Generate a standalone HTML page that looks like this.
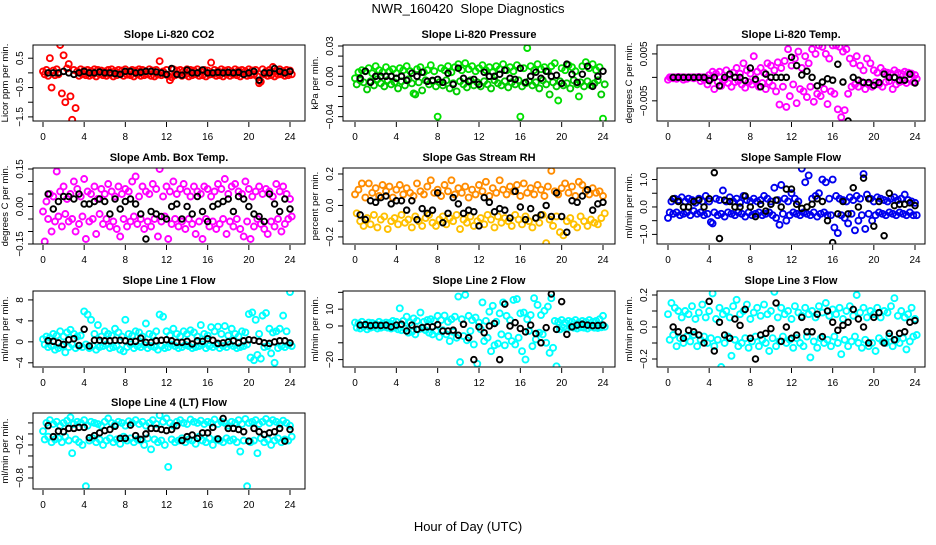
<!DOCTYPE html>
<html><head><meta charset="utf-8"><style>
html,body{margin:0;padding:0;background:#fff;}
svg text{font-family:"Liberation Sans",sans-serif;}
</style></head><body>
<svg id="chart" width="936" height="540" viewBox="0 0 936 540" xmlns="http://www.w3.org/2000/svg">
<text x="468" y="13" text-anchor="middle" font-size="13" xml:space="preserve">NWR_160420  Slope Diagnostics</text>
<text x="468" y="531" text-anchor="middle" font-size="13">Hour of Day (UTC)</text>
</svg>
<script>
const xTicks=[0,4,8,12,16,20,24];
const co2A=[0.05,0.1,0.5,0.08,0.12,0.95,0.6,0.15,-0.8,0.1,0.05,0.12,0.08,0.1,0.06,0.12,0.1,0.08,0.05,0.1,0.12,0.06,0.1,0.08,0.12,0.05,0.1,0.08,0.12,0.1,0.06,0.12,0.08,0.1,0.4,0.05,0.1,-0.25,0.12,0.08,0.1,0.06,0.12,0.1,0.08,0.12,0.05,0.1,0.08,0.35,0.1,0.06,0.12,0.08,0.1,0.05,0.12,0.08,0.1,0.06,0.12,0.08,0.1,-0.35,0.12,0.05,0.1,0.2,0.08,0.12,0.06,0.1,0.08];
const co2B=[-0.05,-0.1,-0.5,-0.08,-0.05,-0.7,-1.0,0.3,-1.6,-1.2,-0.1,-0.05,-0.08,-0.1,-0.06,-0.12,-0.05,-0.08,-0.1,-0.05,-0.12,-0.08,-0.05,-0.1,-0.06,-0.08,-0.12,-0.05,-0.1,-0.08,-0.05,-0.1,-0.12,-0.06,-0.08,-0.05,-0.1,-0.15,-0.08,-0.05,-0.1,-0.06,-0.12,-0.08,-0.05,-0.1,-0.08,-0.12,-0.06,-0.05,-0.1,-0.08,-0.12,-0.05,-0.1,-0.06,-0.08,-0.12,-0.05,-0.1,-0.08,-0.06,-0.12,-0.3,-0.05,-0.1,-0.08,-0.12,-0.06,-0.05,-0.1,-0.08,-0.05];
const co2K=[0,0,0,0.05,0,-0.05,0,0.05,0,0,0.03,0,0,-0.02,-0.05,0.05,0.05,0,0.02,0.05,0.05,0.03,0,-0.05,0.15,-0.05,-0.08,0.1,0,0,0.1,0,0,0.02,0,0.02,0,0.02,-0.05,0,0.05,-0.25,0,0,0.15,0.05,0,0.05];
const presA=[-0.002,0.004,0.006,0.005,0.008,0.003,0.01,0.006,0.004,0.009,0.005,0.007,0.003,0.008,0.006,0.01,0.005,-0.017,0.007,0.009,0.004,0.006,0.011,0.005,-0.04,0.008,0.006,0.01,0.004,0.009,0.012,0.006,0.013,0.007,0.01,0.005,0.008,0.011,0.006,0.009,0.004,0.01,0.007,0.012,0.006,0.009,0.005,0.011,-0.04,0.008,0.028,0.01,0.006,0.012,0.007,0.009,0.005,0.01,0.013,-0.024,0.008,0.006,0.011,0.009,0.005,-0.02,0.01,0.014,0.008,0.012,0.006,0.009,-0.042];
const presB=[-0.008,-0.004,-0.006,-0.013,-0.005,-0.009,-0.003,-0.007,-0.01,-0.004,-0.008,-0.006,-0.012,-0.005,-0.009,-0.003,-0.007,-0.018,-0.006,-0.014,-0.004,-0.008,-0.005,-0.01,-0.006,-0.009,-0.004,-0.012,-0.007,-0.015,-0.005,-0.008,-0.011,-0.004,-0.009,-0.006,-0.01,-0.005,-0.008,-0.012,-0.004,-0.007,-0.009,-0.005,-0.011,-0.006,-0.008,-0.004,-0.01,-0.007,-0.005,-0.009,-0.006,-0.012,-0.004,-0.008,-0.018,-0.006,-0.01,-0.005,-0.009,-0.007,-0.012,-0.004,-0.008,-0.006,-0.01,-0.005,-0.009,-0.007,-0.004,-0.018,-0.008];
const presK=[-0.002,0.005,-0.006,0,0,0,0,-0.002,0,-0.004,0.003,0,0.004,-0.005,-0.004,-0.003,-0.006,0.003,-0.008,0.008,-0.002,-0.005,-0.003,-0.008,0.004,0,0,0.002,0.006,-0.002,-0.003,0.008,-0.006,0,0.004,-0.002,0.005,0,0.001,-0.007,0.012,0.002,-0.006,0.002,0.01,-0.01,0,0.005];
const tempA=[-0.5,0,0,0.1,0,0,0,0,0,0.1,0,0,0.5,1.2,0.8,1.2,-0.8,1.5,0.5,1,2,0.8,3,1.5,0.8,4.5,1.2,2,1,3,2.5,1.5,3.2,2,3.5,6,2.5,4,5.5,2,4.5,3,6,5,6.8,6.5,5,4,6.8,6.8,6.5,5.5,6,4,3,4.5,2.5,1.5,4,3,1.5,1,2,1.2,1,0.8,1.5,1,0.8,1.2,1,0.8,0.5];
const tempB=[0,-0.2,-0.3,0,-0.5,-0.3,0,-0.2,0,-0.8,-0.5,-1.5,-0.3,-2.5,-1,-1.8,-0.5,-1.2,-2,-1,-0.8,-1.5,-2.2,-1,-1.5,-0.8,-2,-1.2,-2.5,-1,-1.8,-3,-5.8,-2,-6.3,-4,-1.5,-5.5,-2.5,-3,-4.2,-2,-5.2,-3.5,-4,-2.5,-5.7,-3,-3.5,-6.8,-8.5,-7,-3.5,-2,-1.5,-2,-1,-2.5,-1.5,-2,-1,-1.5,-2,-1,-0.8,-2.5,-1.5,-1,-0.8,-1.2,-0.5,-1,-0.3];
const tempK=[0,0,0,0,0,0,0,-0.7,0,-1.8,0,0.7,0,0,-0.7,2,-0.4,-2,0.7,0,0,0,0,4.3,2.5,0.5,1.3,0,-1.8,-1,-0.3,-0.6,2.8,-1,-9.3,0,-0.6,-1.1,-1.1,-1.7,-1.1,0.7,0,0,-0.6,-0.6,0.7,-1.2];
const ambA=[-0.02,0.02,0.05,0.04,0.14,0.06,0.08,0.03,0.05,0.1,0.07,0.04,0.11,0.06,0.05,0.08,0.03,0.07,0.05,0.09,0.06,0.04,0.08,0.05,0.07,0.06,0.1,0.12,0.04,0.08,0.06,0.05,0.09,0.07,0.15,0.04,0.08,0.06,0.1,0.05,0.07,0.09,0.06,0.04,0.08,0.06,0.05,0.08,0.07,0.04,0.06,0.09,0.07,0.11,0.05,0.08,0.09,0.06,0.05,0.1,0.07,0.04,0.06,0.08,0.05,0.07,0.06,0.04,0.09,0.06,0.08,0.05,0.03];
const ambB=[-0.14,-0.05,-0.1,-0.06,-0.04,-0.08,-0.03,-0.06,-0.05,-0.1,-0.07,-0.04,-0.13,-0.06,-0.05,-0.11,-0.03,-0.07,-0.05,-0.08,-0.06,-0.09,-0.12,-0.05,-0.08,-0.06,-0.04,-0.07,-0.05,-0.09,-0.06,-0.08,-0.05,-0.12,-0.06,-0.04,-0.13,-0.07,-0.05,-0.08,-0.06,-0.09,-0.05,-0.07,-0.11,-0.06,-0.13,-0.05,-0.08,-0.06,-0.09,-0.07,-0.05,-0.11,-0.06,-0.08,-0.05,-0.09,-0.12,-0.06,-0.13,-0.08,-0.05,-0.07,-0.09,-0.11,-0.06,-0.08,-0.05,-0.1,-0.07,-0.05,-0.04];
const ambK=[0.05,-0.01,0.02,0.04,0.04,0.03,0.05,0.01,0.01,0.02,0.03,0.02,-0.03,0.03,-0.01,0.02,0.03,0.01,-0.03,-0.13,-0.02,-0.03,-0.04,-0.05,0,0.01,-0.05,0,-0.03,0.04,-0.02,-0.06,0,0.01,0.02,0.03,-0.02,0.04,0.03,0,-0.03,-0.04,-0.06,0.05,0.01,-0.02,0.03,-0.01];
const rhA=[0.07,0.1,0.14,0.05,0.14,0.08,0.11,0.06,0.13,0.09,0.12,0.05,0.1,0.13,0.07,0.11,0.08,0.06,0.14,0.09,0.07,0.12,0.16,0.08,0.1,0.06,0.13,0.09,0.16,0.07,0.11,0.08,0.12,0.05,0.1,0.07,0.13,0.09,0.15,0.06,0.11,0.08,0.16,0.1,0.07,0.12,0.09,0.13,0.06,0.14,0.08,0.11,0.07,0.13,0.1,0.06,0.12,0.22,0.09,0.07,0.11,0.14,0.08,0.12,0.06,0.15,0.13,0.09,0.07,0.11,0.08,0.09,0.06];
const rhB=[-0.05,-0.1,-0.13,-0.08,-0.12,-0.06,-0.14,-0.09,-0.07,-0.15,-0.1,-0.08,-0.12,-0.06,-0.11,-0.09,-0.14,-0.07,-0.1,-0.13,-0.08,-0.06,-0.11,-0.13,-0.09,-0.07,-0.12,-0.08,-0.1,-0.06,-0.15,-0.09,-0.11,-0.07,-0.13,-0.1,-0.08,-0.12,-0.06,-0.09,-0.14,-0.07,-0.11,-0.08,-0.1,-0.13,-0.06,-0.09,-0.12,-0.07,-0.1,-0.14,-0.08,-0.11,-0.06,-0.24,-0.09,-0.13,-0.07,-0.17,-0.19,-0.1,-0.08,-0.12,-0.14,-0.07,-0.1,-0.13,-0.09,-0.11,-0.12,-0.08,-0.05];
const rhK=[-0.06,-0.09,0.03,0.02,0.05,0.06,0.01,0.03,0.03,-0.03,0.03,-0.09,-0.02,-0.05,-0.03,0.08,-0.11,-0.05,0.05,0.01,-0.05,-0.03,-0.04,-0.13,0.05,0.02,-0.04,-0.02,-0.03,-0.08,0.09,-0.01,-0.09,-0.02,-0.08,-0.06,0,-0.07,0.08,-0.07,-0.17,0.03,0.02,0.06,0.1,-0.03,0.01,0.02];
const sfA=[-0.4,0.2,0.3,0.25,0.35,0.2,0.3,0.25,0.15,0.3,0.2,0.4,0.2,-0.6,0.3,0.25,0.6,0.2,0.35,0.2,0.3,0.15,0.4,0.25,0.2,0.3,0.2,0.25,0.4,0.3,0.2,0.7,0.25,0.8,0.3,0.2,0.5,0.3,0.2,1.4,0.9,1.15,0.3,0.4,0.5,1.0,0.9,0.3,1.0,0.4,0.3,0.25,0.2,0.35,0.25,0.4,0.3,1.2,0.45,0.3,0.2,0.35,0.3,0.25,0.2,0.3,0.35,0.25,0.3,0.45,0.25,0.2,0.15];
const sfB=[-0.2,-0.25,-0.2,-0.3,-0.25,-0.2,-0.3,-0.15,-0.25,-0.2,-0.3,-0.25,-0.55,-0.2,-0.3,-0.25,-0.35,-0.2,-0.25,-0.3,-0.2,-0.25,-0.35,-0.2,-0.3,-0.25,-0.2,-0.3,-0.25,-0.2,-0.3,-0.4,-0.65,-0.25,-0.5,-0.3,-0.2,-0.25,-0.3,-0.2,-0.25,-0.3,-0.2,-0.35,-0.25,-0.2,-0.3,-0.3,-0.75,-0.95,-0.3,-0.4,-0.6,-0.25,-0.85,-0.5,-0.3,-0.8,-0.25,-0.5,-0.3,-0.2,-0.25,-0.3,-0.2,-0.25,-0.3,-0.2,-0.25,-0.3,-0.2,-0.3,-0.3];
const sfK=[0.3,0.2,0,0,0.2,0.25,0,0.3,1.25,-1.15,0.25,0.2,0,0,0.4,0,-0.35,0.1,-0.15,0.1,0.25,0,0.65,0.65,0.1,-0.05,0,0.1,0.3,0.2,-0.5,-1.3,-0.25,0.2,-0.25,0.7,0,1.05,0.3,-0.7,0.2,-1.05,0.5,0.05,0.1,0.1,0.15,0.05];
const l1A=[0.5,1,0.8,1.5,1.2,2,1,1.8,2.3,1.5,1,1.2,5.8,5.2,4.2,1.5,3.2,1,2,1.5,1.2,2.5,1.8,1,4.2,1.5,1.2,2,1.8,1,3.5,1.5,1.2,2,5.2,4.8,2,1.2,2.5,1.5,1,2,1.5,2.2,1.8,1,3.2,1.5,1.2,2.8,2,2.9,1.5,3,1.2,2.5,1.5,1,2,1.8,5.3,5.6,4.2,1.5,5,5.5,2.5,1.8,2,2.5,5,2,9.5];
const l1B=[-0.5,-1,-0.8,-1.5,-1.2,-0.8,-2,-1,-0.5,-1.2,-0.8,-1,-0.5,-1.2,-0.8,-1.5,-1,-0.8,-0.5,-1.2,-1,-0.8,-1.5,-1.8,-1,-0.5,-1.2,-0.8,-1,-0.6,-1.2,-0.8,-1,-1.5,-0.8,-1.2,-1,-0.5,-0.8,-1.2,-1,-0.6,-0.8,-1.2,-1,-0.8,-0.5,-1.2,-0.8,-1,-0.6,-1.2,-0.8,-1,-0.5,-0.8,-1.2,-1,-0.8,-0.5,-3,-3.5,-2.5,-3.2,-1,-0.8,-2.2,-4,-1.2,-0.8,-1,-0.6,-0.8];
const l1K=[0.2,0.1,-0.2,-0.5,0.4,0.6,-0.7,2.4,-0.8,0.3,0.3,0.2,0.2,0.3,0.3,0.2,0,0.1,0.7,-0.1,-0.1,0.2,0.3,0.4,0.2,-0.1,-0.1,0.1,-0.4,0.2,0.1,0.6,0.3,-0.3,-0.2,0,0.2,-0.2,0.2,0.4,0.3,0.1,-0.2,-0.3,0,0.2,0.2,-0.2];
const l2A=[2,1.5,2.5,1,2,1.8,1.2,2.5,1.5,2,1.8,3,2.5,10.5,3,5.5,2,4.5,3,8,2.5,3.5,4,3,6,3.5,6.2,2.5,4,5.5,17.5,4,18.5,6,3.5,5,2,14,3,8.5,12,2.5,7.5,14,6,3.5,15.5,16,7.5,8,4,6.5,16.5,12.5,6.5,9,11.5,16.5,3,2.5,3.5,2,3,2.5,3.5,2,3,2.5,3.5,2.5,3,4,6];
const l2B=[-1,-1.5,-0.5,-2,-1,-0.5,-1.5,-1,-0.5,-1,-1.5,-1,-2,-2.5,-1.5,-4,-3.5,-5,-2,-1.5,-2.5,-4,-5,-3,-6.5,-2.5,-5,-9,-3.5,-7,-21.5,-6,-8.5,-3,-11,-22.5,-2,-9,-7,-15,-11.5,-10.5,-5,-11.5,-6,-9,-11,-7,-15,-20,-3,-12,-8,-4,-5,-10,-16,-13,-24,-2,-1,-1.5,-0.5,-1,-1.5,-0.8,-1,-1.5,-0.5,-1,-1.2,-0.8,-0.5];
const l2K=[0.5,0.8,0.2,0.5,0.3,0.5,-0.5,0.5,1,-3,0.5,-2,-1,-0.5,-0.5,0.8,-3,-3,-2.5,-5.5,1,-7,-20,-0.5,-4,0,1.5,-20,13,0,2,-1.5,-3.5,0.5,-4.5,-10,-1,19,-2,14.5,-5,-0.5,0.5,1,0.5,0.2,0.3,0.5];
const l3A=[0.08,0.15,0.12,0.1,0.06,0.1,0.08,0.13,0.05,0.09,0.14,0.06,0.1,0.21,0.05,0.12,0.08,0.1,0.06,0.13,0.17,0.08,0.1,0.14,0.05,0.09,0.12,0.07,0.14,0.08,0.1,0.22,0.06,0.12,0.08,0.1,0.05,0.13,0.09,0.07,0.12,0.08,0.1,0.06,0.13,0.09,0.15,0.07,0.11,0.08,0.12,0.05,0.1,0.13,0.07,0.2,0.09,0.12,0.06,0.1,0.08,0.12,0.06,0.1,0.09,0.13,0.18,0.07,0.1,0.06,0.08,0.12,0.05];
const l3B=[-0.08,-0.05,-0.12,-0.07,-0.1,-0.06,-0.09,-0.05,-0.12,-0.08,-0.06,-0.1,-0.07,-0.12,-0.08,-0.25,-0.1,-0.06,-0.18,-0.08,-0.12,-0.1,-0.07,-0.13,-0.09,-0.06,-0.12,-0.08,-0.1,-0.15,-0.07,-0.12,-0.09,-0.06,-0.1,-0.08,-0.13,-0.07,-0.1,-0.12,-0.06,-0.19,-0.09,-0.13,-0.07,-0.1,-0.08,-0.12,-0.06,-0.1,-0.17,-0.08,-0.12,-0.09,-0.06,-0.1,-0.13,-0.08,-0.12,-0.1,-0.15,-0.07,-0.09,-0.1,-0.06,-0.12,-0.08,-0.1,-0.07,-0.14,-0.09,-0.06,-0.05];
const l3K=[0,-0.03,-0.07,-0.02,-0.03,-0.05,-0.1,0.16,-0.15,0.03,-0.05,-0.07,0.05,0.01,0.11,-0.07,-0.2,-0.05,-0.04,-0.01,0.15,-0.09,0,-0.07,-0.05,0.06,-0.03,-0.03,0.08,-0.06,0.1,0.03,-0.02,0.01,0.03,0.11,0.05,0,-0.1,0.06,0.09,-0.1,-0.04,-0.08,-0.04,-0.03,0.03,0.04];
const l4A=[0.05,0.2,0.25,0.18,0.22,0.15,0.2,0.24,0.3,0.18,0.22,0.2,0.25,0.15,0.22,0.2,0.18,0.15,0.22,0.28,0.2,0.17,0.22,0.2,0.15,0.23,0.2,0.25,0.18,0.22,0.15,0.2,0.25,0.18,0.34,0.22,0.28,0.2,0.15,0.22,0.25,0.2,0.18,0.26,0.22,0.2,0.24,0.18,0.22,0.2,0.26,0.18,0.22,0.2,0.15,0.22,0.2,0.25,0.18,0.27,0.2,0.22,0.25,0.18,0.22,0.27,0.2,0.25,0.22,0.18,0.24,0.2,0.15];
const l4B=[-0.1,-0.05,-0.15,-0.1,-0.08,-0.15,-0.05,-0.12,-0.35,-0.1,-0.15,-0.2,-0.95,-0.12,-0.08,-0.15,-0.1,-0.2,-0.12,-0.08,-0.15,-0.1,-0.18,-0.05,-0.12,-0.08,-0.15,-0.1,-0.12,-0.2,-0.08,-0.28,-0.1,-0.15,-0.12,-0.2,-0.6,-0.1,-0.15,-0.12,-0.08,-0.15,-0.1,-0.12,-0.18,-0.05,-0.12,-0.15,-0.08,-0.2,-0.1,-0.12,-0.15,-0.08,-0.12,-0.1,-0.15,-0.32,-0.12,-0.95,-0.15,-0.12,-0.35,-0.08,-0.15,-0.1,-0.2,-0.12,-0.08,-0.15,-0.1,-0.12,-0.05];
const l4K=[0.15,-0.05,0.05,0.04,0.1,0.1,0.12,0.12,-0.07,-0.03,0.02,0.06,0.08,0.14,-0.08,-0.08,0.16,-0.03,-0.1,0.0,0.1,0.1,0.08,0.06,0.08,0.15,-0.12,-0.05,-0.02,-0.08,0.02,0.02,0.12,-0.09,0.28,0.1,0.1,0.08,0.04,-0.13,0.1,0.04,-0.01,0.02,0.04,0.1,-0.13,0.08];

const panels=[
 {name:'co2',title:'Slope Li-820 CO2',ylab:'Licor ppm per min.',col:0,row:0,ymin:-1.64,ymax:0.95,ticks:[0.5,0,-0.5,-1,-1.5],labels:{'0.5':'0.5','-0.5':'\u22120.5','-1.5':'\u22121.5'},a:co2A,b:co2B,k:co2K,ca:'#ff0000',cb:'#ff0000'},
 {name:'pressure',title:'Slope Li-820 Pressure',ylab:'kPa per min.',col:1,row:0,ymin:-0.0443,ymax:0.031,ticks:[0.03,0.02,0.01,0,-0.01,-0.02,-0.03,-0.04],labels:{'0.03':'0.03','0':'0.00','-0.04':'\u22120.04'},a:presA,b:presB,k:presK,ca:'#00e000',cb:'#00cc00'},
 {name:'temp',title:'Slope Li-820 Temp.',ylab:'degrees C per min.',col:2,row:0,ymin:-9.3,ymax:6.9,ticks:[5,0,-5],labels:{'5':'0.005','-5':'\u22120.005'},a:tempA,b:tempB,k:tempK,ca:'#ff00ff',cb:'#ff00ff'},
 {name:'amb-box-temp',title:'Slope Amb. Box Temp.',ylab:'degrees C per min.',col:0,row:1,ymin:-0.15,ymax:0.154,ticks:[0.15,0.1,0.05,0,-0.05,-0.1,-0.15],labels:{'0.15':'0.15','0':'0.00','-0.15':'\u22120.15'},a:ambA,b:ambB,k:ambK,ca:'#ff00ff',cb:'#ff00ff'},
 {name:'gas-stream-rh',title:'Slope Gas Stream RH',ylab:'percent per min.',col:1,row:1,ymin:-0.245,ymax:0.238,ticks:[0.2,0.1,0,-0.1,-0.2],labels:{'0.2':'0.2','0':'0.0','-0.2':'\u22120.2'},a:rhA,b:rhB,k:rhK,ca:'#ff8c00',cb:'#ffc000'},
 {name:'sample-flow',title:'Slope Sample Flow',ylab:'ml/min per min.',col:2,row:1,ymin:-1.35,ymax:1.42,ticks:[1,0.5,0,-0.5,-1],labels:{'1':'1.0','0':'0.0','-1':'\u22121.0'},a:sfA,b:sfB,k:sfK,ca:'#0000ee',cb:'#0000ee'},
 {name:'line1-flow',title:'Slope Line 1 Flow',ylab:'ml/min per min.',col:0,row:2,ymin:-4.8,ymax:9.7,ticks:[8,4,0,-4],labels:{'8':'8','4':'4','0':'0','-4':'\u22124'},a:l1A,b:l1B,k:l1K,ca:'#00ffff',cb:'#00ffff'},
 {name:'line2-flow',title:'Slope Line 2 Flow',ylab:'ml/min per min.',col:1,row:2,ymin:-24.4,ymax:20.8,ticks:[20,10,0,-10,-20],labels:{'10':'10','0':'0','-20':'\u221220'},a:l2A,b:l2B,k:l2K,ca:'#00ffff',cb:'#00ffff'},
 {name:'line3-flow',title:'Slope Line 3 Flow',ylab:'ml/min per min.',col:2,row:2,ymin:-0.25,ymax:0.225,ticks:[0.2,0.1,0,-0.1,-0.2],labels:{'0.2':'0.2','0':'0.0','-0.2':'\u22120.2'},a:l3A,b:l3B,k:l3K,ca:'#00ffff',cb:'#00ffff'},
 {name:'line4-flow',title:'Slope Line 4 (LT) Flow',ylab:'ml/min per min.',col:0,row:3,ymin:-1.0,ymax:0.38,ticks:[0.2,0,-0.2,-0.4,-0.6,-0.8],labels:{'-0.2':'\u22120.2','-0.8':'\u22120.8'},a:l4A,b:l4B,k:l4K,ca:'#00ffff',cb:'#00ffff'}
];
const colBox=[{l:33,r:305,x0:43,x24:290},{l:343,r:615,x0:355,x24:603},{l:657,r:925,x0:668,x24:915}];
const rowBox=[{t:45,b:121},{t:168,b:244},{t:291,b:367},{t:413,b:489}];
const NS='http://www.w3.org/2000/svg';
const svg=document.getElementById('chart');
function mk(tag,attrs,parent){const e=document.createElementNS(NS,tag);for(const k in attrs)e.setAttribute(k,attrs[k]);(parent||svg).appendChild(e);return e;}
panels.forEach(p=>{
 const C=colBox[p.col],R=rowBox[p.row];
 const xs=h=>C.x0+(C.x24-C.x0)*h/24;
 const ys=v=>R.b-(v-p.ymin)/(p.ymax-p.ymin)*(R.b-R.t);
 const g=mk('g',{});
 
 
 const clip=mk('clipPath',{id:'clip-'+p.name},g);
 mk('rect',{x:C.l,y:R.t,width:C.r-C.l,height:R.b-R.t},clip);
 const pts=mk('g',{'clip-path':'url(#clip-'+p.name+')',fill:'none','stroke-width':'1.9'},g);
 
 
 [[p.a,p.ca,0],[p.b,p.cb,1/6]].forEach(([arr,c,off])=>{
  arr.forEach((v,i)=>{const e=mk('circle',{cx:xs(i/3+off),cy:ys(v),r:3,stroke:c},pts);
   
   });
 });
 p.k.forEach((v,i)=>{const e=mk('circle',{cx:xs(0.5+i*0.5),cy:ys(v),r:2.8,stroke:'#000'},pts);
  
  });
 const box=mk('rect',{x:C.l,y:R.t,width:C.r-C.l,height:R.b-R.t,fill:'none',stroke:'#000','stroke-width':1},g);
 
 
 const t=mk('text',{x:(C.l+C.r)/2,y:R.t-7,'text-anchor':'middle','font-size':11,'font-weight':'bold'},g);
 t.textContent=p.title;
 
 
 xTicks.forEach(h=>{const x=xs(h);
  mk('line',{x1:x,x2:x,y1:R.b+1,y2:R.b+6,stroke:'#000'},g);
  const tl=mk('text',{x:x,y:R.b+19,'text-anchor':'middle','font-size':10},g);
  tl.textContent=h;
  
  });
 p.ticks.forEach(v=>{const y=ys(v);
  mk('line',{x1:C.l-5,x2:C.l,y1:y,y2:y,stroke:'#000'},g);
  const lab=p.labels[String(v)];
  if(lab){const tl=mk('text',{x:C.l-10,y:y,'text-anchor':'middle','font-size':10,transform:'rotate(-90 '+(C.l-10)+' '+y+')'},g);
   tl.textContent=lab;
   
   }
 });
 const cy=(R.t+R.b)/2,yx=C.l-25;
 const yl=mk('text',{x:yx,y:cy,'text-anchor':'middle','font-size':9.5,transform:'rotate(-90 '+yx+' '+cy+')'},g);
 yl.textContent=p.ylab;
 
 
});
</script>
</body></html>
